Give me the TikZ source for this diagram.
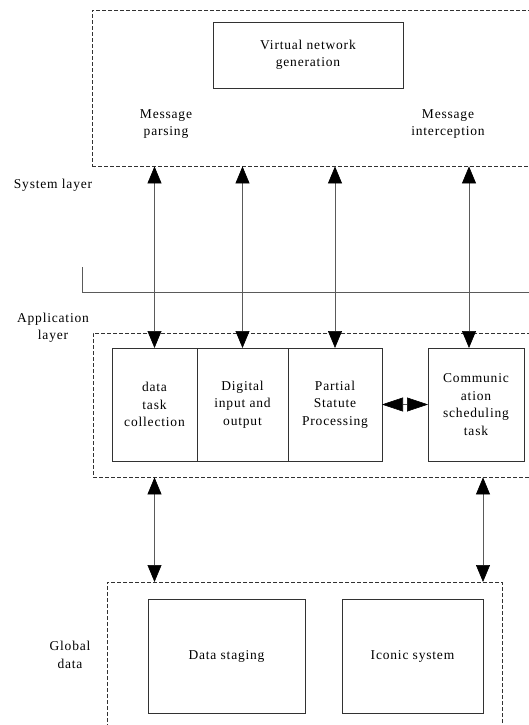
\documentclass[tikz,border=0pt]{standalone}
\usepackage{fontspec}
\setmainfont{Liberation Serif}[LetterSpace=6]
\usetikzlibrary{positioning,arrows.meta}
\definecolor{linegray}{RGB}{90,90,90}
\definecolor{boxgray}{RGB}{50,50,50}

\begin{document}
\begin{tikzpicture}[
        x=1pt, y=-1pt,
        node distance=0pt,
        every node/.style={font=\fontsize{13.5}{17.5}\selectfont, align=center},
        layer/.style={draw=boxgray, dash pattern=on 4pt off 2pt, anchor=north west, inner sep=0pt},
        box/.style={rectangle, draw=boxgray, line width=0.8pt, outer sep=0pt, minimum height=113pt, inner sep=1pt},
        arrow/.style={{Triangle[length=17pt,width=14pt,color=black]}-{Triangle[length=17pt,width=14pt,color=black]}, linegray, line width=0.6pt},
        swap/.style={{Triangle[length=21pt,width=14pt,color=black]}-{Triangle[length=21pt,width=14pt,color=black]}, linegray, line width=0.6pt}
    ]
        \useasboundingbox (0,0) rectangle (529,725);

        % System layer
        \node[layer, minimum width=460pt, minimum height=156pt] (sys) at (92,10) {};
        \node[box, minimum width=190pt, minimum height=66pt] (vng) at (308,55) {Virtual network\\generation};
        \node (parse) at (166,124) {Message\\parsing};
        \node (intercept) at (448,124) {Message\\interception};
        \node (syslabel) at (53,185) {System layer};

        % Separator
        \draw[linegray, line width=0.6pt] (82,267) -- (82,292) -- (540,292);

        % Application layer
        \node (applabel) at (53,328) {Application\\layer};
        \node[layer, minimum width=450pt, minimum height=144pt] (app) at (93,333) {};
        \node[box, minimum width=85pt, anchor=north west] (collect) at (112,348) {data\\task\\collection};
        \node[box, minimum width=91pt, right=of collect] (digital) {Digital\\input and\\output};
        \node[box, minimum width=94pt, right=of digital] (partial) {Partial\\Statute\\Processing};
        \node[box, minimum width=96pt, anchor=north west] (comm) at (428,348) {Communic\\ation\\scheduling\\task};

        \draw[arrow] (sys.south -| collect.north) -- (collect.north);
        \draw[arrow] (sys.south -| digital.north) -- (digital.north);
        \draw[arrow] (sys.south -| partial.north) -- (partial.north);
        \draw[arrow] (sys.south -| comm.north) ++(-7,0) coordinate (commtop) -- (commtop |- comm.north);
        \draw[swap] (partial) -- (comm);

        % Global data
        \node[layer, minimum width=395pt, minimum height=160pt] (glob) at (107,582) {};
        \node[box, minimum width=157pt, minimum height=114pt, anchor=north west] (stage) at (148,599) {Data staging};
        \node[box, minimum width=141pt, minimum height=114pt, anchor=north west] (iconic) at (342,599) {Iconic system};
        \node (globlabel) at (70,655) {Global\\data};

        \draw[arrow] (app.south -| collect.south) -- (glob.north -| collect.south);
        \draw[arrow] (app.south -| iconic.north east) -- (glob.north -| iconic.north east);
    \end{tikzpicture}
\end{document}
